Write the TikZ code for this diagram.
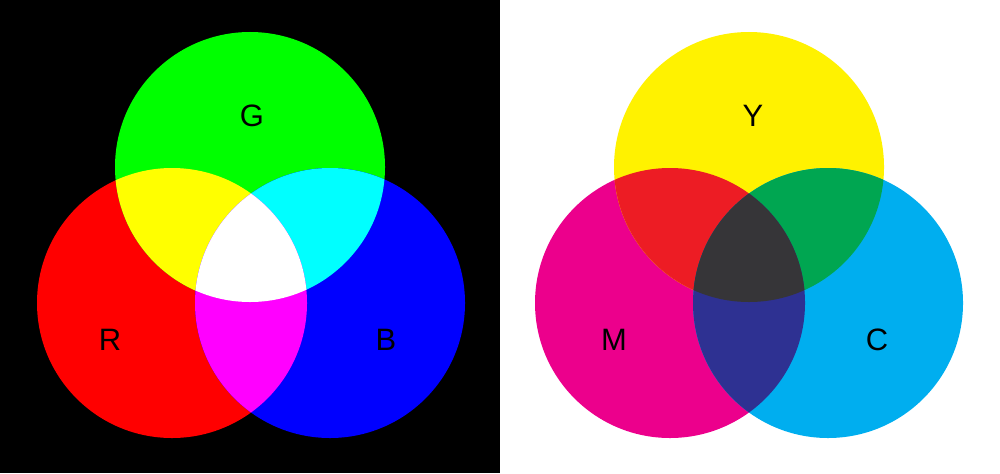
\documentclass[tikz,border=0pt]{standalone}
\usepackage{fontspec}
\setmainfont{Liberation Sans}
\usetikzlibrary{positioning}

\definecolor{rgbR}{HTML}{FF0000}
\definecolor{rgbG}{HTML}{00FF00}
\definecolor{rgbB}{HTML}{0000FF}
\definecolor{rgbYellow}{HTML}{FFFF00}
\definecolor{rgbCyan}{HTML}{00FFFF}
\definecolor{rgbMagenta}{HTML}{FF00FF}
\definecolor{cmyY}{HTML}{FFF200}
\definecolor{cmyM}{HTML}{EC008C}
\definecolor{cmyC}{HTML}{00AEEF}
\definecolor{cmyRed}{HTML}{ED1C24}
\definecolor{cmyGreen}{HTML}{00A651}
\definecolor{cmyBlue}{HTML}{2E3192}
\definecolor{cmyDark}{HTML}{363538}

\newcommand{\rad}{1.35}

\tikzset{
  letter/.style={font=\fontsize{8.8}{10}\selectfont, text=black, inner sep=0pt}
}

\begin{document}
\begin{tikzpicture}
      \useasboundingbox (0,0) rectangle (10,4.73);
      \fill[black] (0,0) rectangle (5,4.73);
      \fill[white] (5,0) rectangle (10,4.73);
      % additive mixing
      \coordinate (cG) at (2.50,3.06);
      \coordinate (cR) at (1.72,1.70);
      \coordinate (cB) at (3.30,1.70);
      \foreach \c/\col in {cR/rgbR, cG/rgbG, cB/rgbB} {
        \fill[\col] (\c) circle (\rad);
      }
      \foreach \a/\b/\col in {cR/cG/rgbYellow, cG/cB/rgbCyan, cR/cB/rgbMagenta} {
        \begin{scope}
          \clip (\a) circle (\rad);
          \fill[\col] (\b) circle (\rad);
        \end{scope}
      }
      \begin{scope}
        \clip (cR) circle (\rad);
        \clip (cG) circle (\rad);
        \fill[white] (cB) circle (\rad);
      \end{scope}
      \node[letter] (labG) at (2.52,3.57) {G};
      \node[letter] (labR) at (1.10,1.33) {R};
      \node[letter] (labB) at (3.86,1.33) {B};
      % subtractive mixing
      \coordinate (cY) at (7.49,3.06);
      \coordinate (cM) at (6.70,1.70);
      \coordinate (cC) at (8.28,1.70);
      \foreach \c/\col in {cM/cmyM, cY/cmyY, cC/cmyC} {
        \fill[\col] (\c) circle (\rad);
      }
      \foreach \a/\b/\col in {cM/cY/cmyRed, cY/cC/cmyGreen, cM/cC/cmyBlue} {
        \begin{scope}
          \clip (\a) circle (\rad);
          \fill[\col] (\b) circle (\rad);
        \end{scope}
      }
      \begin{scope}
        \clip (cM) circle (\rad);
        \clip (cY) circle (\rad);
        \fill[cmyDark] (cC) circle (\rad);
      \end{scope}
      \node[letter] (labY) at (7.53,3.57) {Y};
      \node[letter] (labM) at (6.14,1.33) {M};
      \node[letter] (labC) at (8.77,1.33) {C};
    \end{tikzpicture}
\end{document}
